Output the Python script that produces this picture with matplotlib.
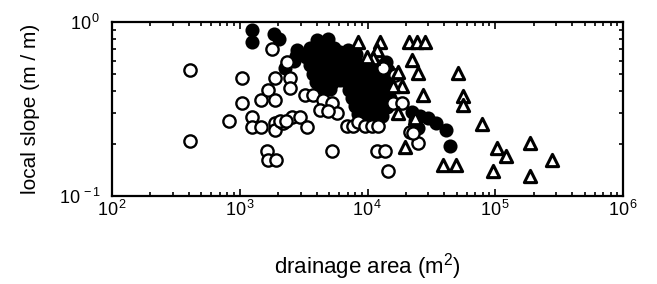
import matplotlib
matplotlib.use("Agg")
import matplotlib.pyplot as plt
from matplotlib.ticker import LogLocator, FixedLocator, NullFormatter

plt.rcParams['font.family'] = ['Liberation Sans', 'DejaVu Sans']
plt.rcParams['mathtext.fontset'] = 'custom'
plt.rcParams['mathtext.rm'] = 'Liberation Sans'
plt.rcParams['mathtext.it'] = 'Liberation Sans'

# open circles
open_area = [407, 407, 828, 1036, 1036, 1250, 1250, 1466, 1460, 1650, 1888, 1888, 1888,
             1888, 2193, 2551, 2963, 3350, 2473, 2490, 3240, 1640, 1670, 1920, 1780, 2330,
             3767, 4508, 4246, 5245, 5800, 4932, 5300, 6873, 7743, 8470, 9550, 10790, 12160,
             11800, 13710, 14560, 13300, 15920, 18530, 21520, 25000, 22840, 2065, 2300, 16410]
open_slope = [0.53, 0.208, 0.27, 0.477, 0.341, 0.286, 0.25, 0.25, 0.355, 0.405, 0.356, 0.477, 0.262,
              0.24, 0.262, 0.286, 0.286, 0.25, 0.477, 0.418, 0.382, 0.181, 0.16, 0.16, 0.70, 0.59,
              0.38, 0.356, 0.312, 0.341, 0.30, 0.307, 0.182, 0.252, 0.252, 0.268, 0.252, 0.252, 0.252,
              0.181, 0.181, 0.139, 0.542, 0.343, 0.343, 0.234, 0.201, 0.23, 0.269, 0.269, 0.496]

# filled circles
filled_area = [1240, 1240, 1840, 2030, 2800, 2780, 2660, 2260, 4000, 4930,
               3546, 4098, 4733, 5467, 6091,
               3302, 3813, 4404, 5087, 5878, 6667,
               3546, 4098, 4733, 5467, 6317,
               3745, 4325, 4995, 5773, 6667,
               3953, 4566, 5274, 6091,
               4248, 5087,
               7037, 8128, 10840, 12530, 14470, 13960,
               7295, 8426, 9734,
               7037, 8128, 9389, 10840, 12530,
               6787, 7842, 9057, 10460, 12080, 13960,
               7165, 8276, 9559, 11040, 12750, 14740,
               7564, 8737, 10090, 11650, 13460, 15000,
               7985, 9222, 10650, 12300, 14210,
               8426, 9734, 11240, 12990,
               9057, 10840,
               22310, 25760, 29760, 34380, 41170, 24860, 44230, 23540]
filled_slope = [0.90, 0.77, 0.853, 0.80, 0.69, 0.64, 0.595, 0.545, 0.79, 0.80,
                0.709, 0.718, 0.690, 0.709, 0.672,
                0.629, 0.638, 0.621, 0.629, 0.605, 0.621,
                0.566, 0.559, 0.574, 0.551, 0.559,
                0.502, 0.509, 0.496, 0.502, 0.516,
                0.452, 0.458, 0.446, 0.464,
                0.418, 0.412,
                0.690, 0.655, 0.589, 0.559, 0.530, 0.589,
                0.589, 0.574, 0.559,
                0.516, 0.509, 0.516, 0.502, 0.489,
                0.458, 0.464, 0.452, 0.458, 0.446, 0.452,
                0.407, 0.412, 0.401, 0.407, 0.396, 0.407,
                0.366, 0.361, 0.371, 0.361, 0.356, 0.366,
                0.329, 0.325, 0.333, 0.320, 0.325,
                0.296, 0.292, 0.296, 0.288,
                0.270, 0.273,
                0.304, 0.288, 0.281, 0.263, 0.239, 0.246, 0.193, 0.270]

# open triangles
tri_area = [8470, 12530, 11800, 11100, 9856, 21240, 24540, 28190, 22300, 25000, 51400,
            17400, 18530, 15920, 27000, 56230, 56230, 78310, 17420, 23550, 19670, 39200,
            49500, 102600, 121900, 187000, 96500, 187000, 276600]
tri_slope = [0.772, 0.772, 0.691, 0.617, 0.632, 0.772, 0.772, 0.772, 0.605, 0.509, 0.509,
             0.515, 0.427, 0.43, 0.38, 0.378, 0.335, 0.26, 0.30, 0.28, 0.192, 0.15,
             0.15, 0.188, 0.169, 0.201, 0.14, 0.13, 0.161]

x_ticks = [1e2, 1e3, 1e4, 1e5, 1e6]
x_ticklabels = [r'$\mathregular{10^{\,2}}$', r'$\mathregular{10^{\,3}}$', r'$\mathregular{10^{\,4}}$',
                r'$\mathregular{10^{\,5}}$', r'$\mathregular{10^{\,6}}$']
y_ticks = [0.1, 1.0]
y_ticklabels = [r'$\mathregular{10^{\,-1}}$', r'$\mathregular{10^{\,0}}$']

fig = plt.figure(figsize=(6.57, 2.84), dpi=100)
ax = fig.add_axes([112/657, 1 - 196/284, (623-112)/657, (196-22)/284])

ax.set_xscale('log')
ax.set_yscale('log')
ax.set_xlim(1e2, 1e6)
ax.set_ylim(0.1, 1.0)

ax.scatter(filled_area, filled_slope, s=80, marker='o', facecolor='black', edgecolor='black',
           linewidths=1.2, zorder=2)
ax.scatter(open_area, open_slope, s=78, marker='o', facecolor='white', edgecolor='black',
           linewidths=1.7, zorder=3)
ax.scatter(tri_area, tri_slope, s=78, marker='^', facecolor='white', edgecolor='black',
           linewidths=2.2, zorder=4)

ax.xaxis.set_major_locator(FixedLocator(x_ticks))
ax.set_xticklabels(x_ticklabels)
ax.yaxis.set_major_locator(FixedLocator(y_ticks))
ax.set_yticklabels(y_ticklabels)
ax.xaxis.set_minor_locator(LogLocator(base=10, subs=range(2, 10)))
ax.yaxis.set_minor_locator(LogLocator(base=10, subs=range(2, 10)))
ax.xaxis.set_minor_formatter(NullFormatter())
ax.yaxis.set_minor_formatter(NullFormatter())

ax.tick_params(which='both', direction='in', top=True, right=True, width=1.2, labelsize=13)
ax.tick_params(which='major', length=5)
ax.tick_params(axis='x', which='major', pad=3)
ax.tick_params(axis='y', which='major', pad=8)
ax.tick_params(which='minor', length=3)
for sp in ax.spines.values():
    sp.set_linewidth(1.6)

ax.set_xlabel(r'drainage area (m$\mathregular{^2}$)', fontsize=16, labelpad=22)
ax.set_ylabel('local slope (m / m)', fontsize=15, labelpad=14)

fig.savefig('out.png', dpi=100)
